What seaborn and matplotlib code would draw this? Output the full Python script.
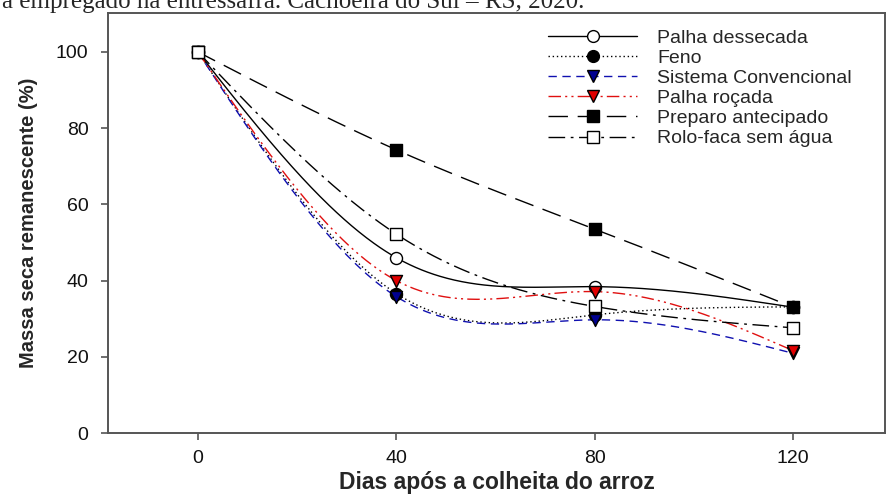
import numpy as np
import pandas as pd
import matplotlib
matplotlib.use("Agg")
import matplotlib.pyplot as plt
import seaborn as sns
from matplotlib.lines import Line2D

# ---- data ----
days = [0, 40, 80, 120]
series_names = ["Palha dessecada", "Feno", "Sistema Convencional",
                "Palha roçada", "Preparo antecipado", "Rolo-faca sem água"]
palha_dessecada = [100, 46.0, 38.4, 33.0]
feno = [100, 36.6, 31.0, 33.1]
sistema_convencional = [100, 35.8, 29.7, 20.9]
palha_rocada = [100, 40.0, 37.1, 21.6]
preparo_antecipado = [100, 74.3, 53.5, 33.0]
rolo_faca = [100, 52.2, 33.2, 27.6]
x_ticks = [0, 40, 80, 120]
y_ticks = [0, 20, 40, 60, 80, 100]
x_label = "Dias após a colheita do arroz"
y_label = "Massa seca remanescente (%)"
caption = "a empregado na entressafra. Cachoeira do Sul – RS, 2020."

values = [palha_dessecada, feno, sistema_convencional, palha_rocada,
          preparo_antecipado, rolo_faca]

# ---- styles ----
styles = [
    dict(color="black", ls="-", marker="o", mfc="white", mec="black"),
    dict(color="black", ls=(0, (1, 2)), marker="o", mfc="black", mec="black"),
    dict(color="#1010B0", ls=(0, (6, 4)), marker="v", mfc="#000090", mec="black"),
    dict(color="#E01010", ls=(0, (9, 3, 1.5, 3, 1.5, 3)), marker="v", mfc="#E00000", mec="black"),
    dict(color="black", ls=(0, (14, 7)), marker="s", mfc="black", mec="black"),
    dict(color="black", ls=(0, (12, 4, 2, 4)), marker="s", mfc="white", mec="black"),
]


def natural_spline(x, y, xs):
    x = np.asarray(x, float)
    y = np.asarray(y, float)
    n = len(x)
    h = np.diff(x)
    A = np.zeros((n, n))
    r = np.zeros(n)
    A[0, 0] = A[-1, -1] = 1
    for i in range(1, n - 1):
        A[i, i - 1] = h[i - 1]
        A[i, i] = 2 * (h[i - 1] + h[i])
        A[i, i + 1] = h[i]
        r[i] = 3 * ((y[i + 1] - y[i]) / h[i] - (y[i] - y[i - 1]) / h[i - 1])
    c = np.linalg.solve(A, r)
    b = (y[1:] - y[:-1]) / h - h * (2 * c[:-1] + c[1:]) / 3
    d = (c[1:] - c[:-1]) / (3 * h)
    idx = np.clip(np.searchsorted(x, xs, side="right") - 1, 0, n - 2)
    dx = xs - x[idx]
    return y[idx] + b[idx] * dx + c[idx] * dx ** 2 + d[idx] * dx ** 3


sns.set_style("white")
plt.rcParams["font.family"] = ["Liberation Sans", "DejaVu Sans"]

fig = plt.figure(figsize=(8.87, 4.98), dpi=100)
ax = fig.add_axes([108 / 887, 1 - 433 / 498, (885 - 108) / 887, (433 - 13) / 498])

xs = np.linspace(days[0], days[-1], 400)
for name, vals, st in zip(series_names, values, styles):
    curve = pd.DataFrame({"x": xs, "y": natural_spline(days, vals, xs)})
    sns.lineplot(data=curve, x="x", y="y", ax=ax, color=st["color"],
                 linestyle=st["ls"], linewidth=1.0, sort=False,
                 estimator=None, legend=False)
for name, vals, st in zip(series_names, values, styles):
    pts = pd.DataFrame({"x": days, "y": vals})
    sns.scatterplot(data=pts, x="x", y="y", ax=ax, marker=st["marker"],
                    s=75, color=st["mfc"], edgecolor=st["mec"],
                    linewidth=1.0, legend=False, zorder=5)

ax.set_xlim(-18.1, 138.5)
ax.set_ylim(0, 110.2)
ax.set_xticks(x_ticks)
ax.set_yticks(y_ticks)
ax.tick_params(axis="both", direction="out", length=5, width=1.2,
               color="#555555", labelsize=14, labelcolor="#111111",
               bottom=True, left=True, top=False, right=False)
ax.tick_params(axis="x", pad=7)
ax.tick_params(axis="y", pad=9)
for sp in ax.spines.values():
    sp.set_color("#555555")
    sp.set_linewidth(1.4)

ax.set_xlabel(x_label, fontsize=16.5, fontweight="bold", labelpad=3)
ax.set_ylabel(y_label, fontsize=14.5, fontweight="bold", labelpad=13)

handles = [Line2D([], [], color=st["color"], linestyle=st["ls"], linewidth=1.0,
                  marker=st["marker"], markerfacecolor=st["mfc"],
                  markeredgecolor=st["mec"], markersize=8.5)
           for st in styles]
fig.legend(handles, series_names, loc="upper left",
           bbox_to_anchor=(548 / 887, 1 - 29 / 498), frameon=False,
           fontsize=14, handlelength=4.6, handletextpad=1.0,
           labelspacing=0.13, borderpad=0, borderaxespad=0)

fig.text(0.002, 1 - 8 / 498, caption, fontsize=18, va="baseline", ha="left",
         family=["Liberation Serif", "DejaVu Serif"])

fig.savefig("out.png", dpi=100)
